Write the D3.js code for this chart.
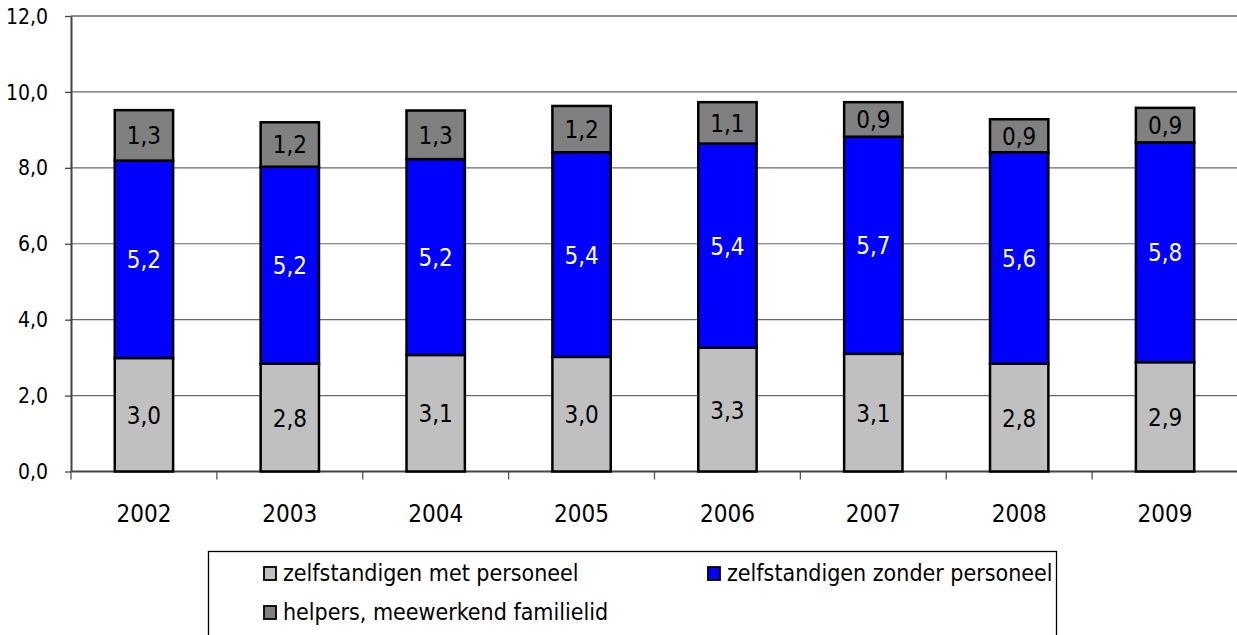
<!DOCTYPE html>
<html lang="nl">
<head>
  <meta charset="UTF-8" />
  <title>Zelfstandigen 2002-2009</title>
  <script src="https://cdn.jsdelivr.net/npm/d3@7"></script>
  <style>
    body, html { margin:0; padding:0; background:#fff; }
    #chart { display:block; }
    .lbl { font-family: "DejaVu Sans Condensed", "DejaVu Sans", sans-serif; font-size: 24px; }
    .leg { font-family: "DejaVu Sans Condensed", "DejaVu Sans", sans-serif; font-size: 23px; }
  </style>
</head>
<body>
  <svg id="chart" width="1237" height="635"></svg>
  <script>
    const years = ['2002','2003','2004','2005','2006','2007','2008','2009'];
    const metPersoneel    = [2.99, 2.84, 3.07, 3.02, 3.26, 3.10, 2.84, 2.88];
    const zonderPersoneel = [5.20, 5.19, 5.16, 5.39, 5.38, 5.72, 5.57, 5.79];
    const helpers         = [1.33, 1.17, 1.28, 1.22, 1.09, 0.91, 0.87, 0.91];
    const seriesNames = ['zelfstandigen met personeel', 'zelfstandigen zonder personeel', 'helpers, meewerkend familielid'];
    const yTicks = [0, 2, 4, 6, 8, 10, 12];

    const colors = ['#c0c0c0', '#0000ff', '#808080'];
    const textColors = ['#000', '#fff', '#000'];

    const svg = d3.select('#chart');
    const mLeft = 71, mRight = 1238, mTop = 16, mBottom = 471.5;

    const x = d3.scaleBand().domain(years).range([mLeft, mRight]).paddingInner(0.6).paddingOuter(0.3);
    const xTick = d3.scaleBand().domain(years).range([mLeft, mRight]);
    const y = d3.scaleLinear().domain([0, 12]).range([mBottom, mTop]);
    const fmt = v => d3.format('.1f')(v).replace('.', ',');

    // gridlines
    svg.append('g').selectAll('line').data(yTicks.filter(d => d > 0)).join('line')
      .attr('x1', mLeft).attr('x2', mRight)
      .attr('y1', d => y(d)).attr('y2', d => y(d))
      .attr('stroke', d => d === 12 ? '#8c8c8c' : '#6a6a6a')
      .attr('stroke-width', d => d === 12 ? 2 : 1.2);

    // y axis
    const yAxis = svg.append('g').attr('transform', `translate(${mLeft},0)`)
      .call(d3.axisLeft(y).tickValues(yTicks).tickFormat(fmt).tickSize(6).tickSizeOuter(0));
    yAxis.select('.domain').attr('stroke', '#444').attr('stroke-width', 2);
    yAxis.selectAll('.tick line').attr('stroke', '#444').attr('stroke-width', 1.3);
    yAxis.selectAll('.tick text')
      .attr('font-family', '"DejaVu Sans Condensed", "DejaVu Sans", sans-serif')
      .attr('font-size', 21).attr('fill', '#000').attr('x', -23).attr('dy', '0.34em');

    // x axis
    svg.append('line').attr('x1', mLeft).attr('x2', mRight)
      .attr('y1', mBottom).attr('y2', mBottom).attr('stroke', '#444').attr('stroke-width', 2);
    svg.append('g').selectAll('line').data(years).join('line')
      .attr('x1', d => xTick(d)).attr('x2', d => xTick(d))
      .attr('y1', mBottom).attr('y2', mBottom + 8)
      .attr('stroke', '#555').attr('stroke-width', 1.3);
    svg.append('g').selectAll('text').data(years).join('text')
      .attr('class', 'lbl')
      .attr('x', d => x(d) + x.bandwidth() / 2).attr('y', 522)
      .attr('text-anchor', 'middle').text(d => d);

    // stacked bars
    const rows = years.map((yr, i) => ({ year: yr, s0: metPersoneel[i], s1: zonderPersoneel[i], s2: helpers[i] }));
    const stack = d3.stack().keys(['s0', 's1', 's2'])(rows);

    stack.forEach((layer, k) => {
      const g = svg.append('g');
      g.selectAll('rect').data(layer).join('rect')
        .attr('x', d => x(d.data.year)).attr('width', x.bandwidth())
        .attr('y', d => y(d[1])).attr('height', d => y(d[0]) - y(d[1]))
        .attr('fill', colors[k]).attr('stroke', '#000').attr('stroke-width', 2.5);
      g.selectAll('text').data(layer).join('text')
        .attr('class', 'lbl')
        .attr('x', d => x(d.data.year) + x.bandwidth() / 2)
        .attr('y', d => (y(d[0]) + y(d[1])) / 2 + 9)
        .attr('text-anchor', 'middle').attr('fill', textColors[k])
        .text(d => fmt(d[1] - d[0]));
    });

    // legend
    svg.append('rect').attr('x', 208.5).attr('y', 551.5).attr('width', 848).attr('height', 100)
      .attr('fill', '#fff').attr('stroke', '#000').attr('stroke-width', 1.3);
    const legPos = [[264, 581], [708, 581], [264, 620]];
    const leg = svg.append('g').selectAll('g').data(seriesNames).join('g')
      .attr('transform', (d, i) => `translate(${legPos[i][0]},${legPos[i][1]})`);
    leg.append('rect').attr('x', 0).attr('y', -14).attr('width', 12).attr('height', 13)
      .attr('fill', (d, i) => colors[i]).attr('stroke', '#000').attr('stroke-width', 1.8);
    leg.append('text').attr('class', 'leg').attr('x', 19).attr('y', 0).text(d => d);
  </script>
</body>
</html>
